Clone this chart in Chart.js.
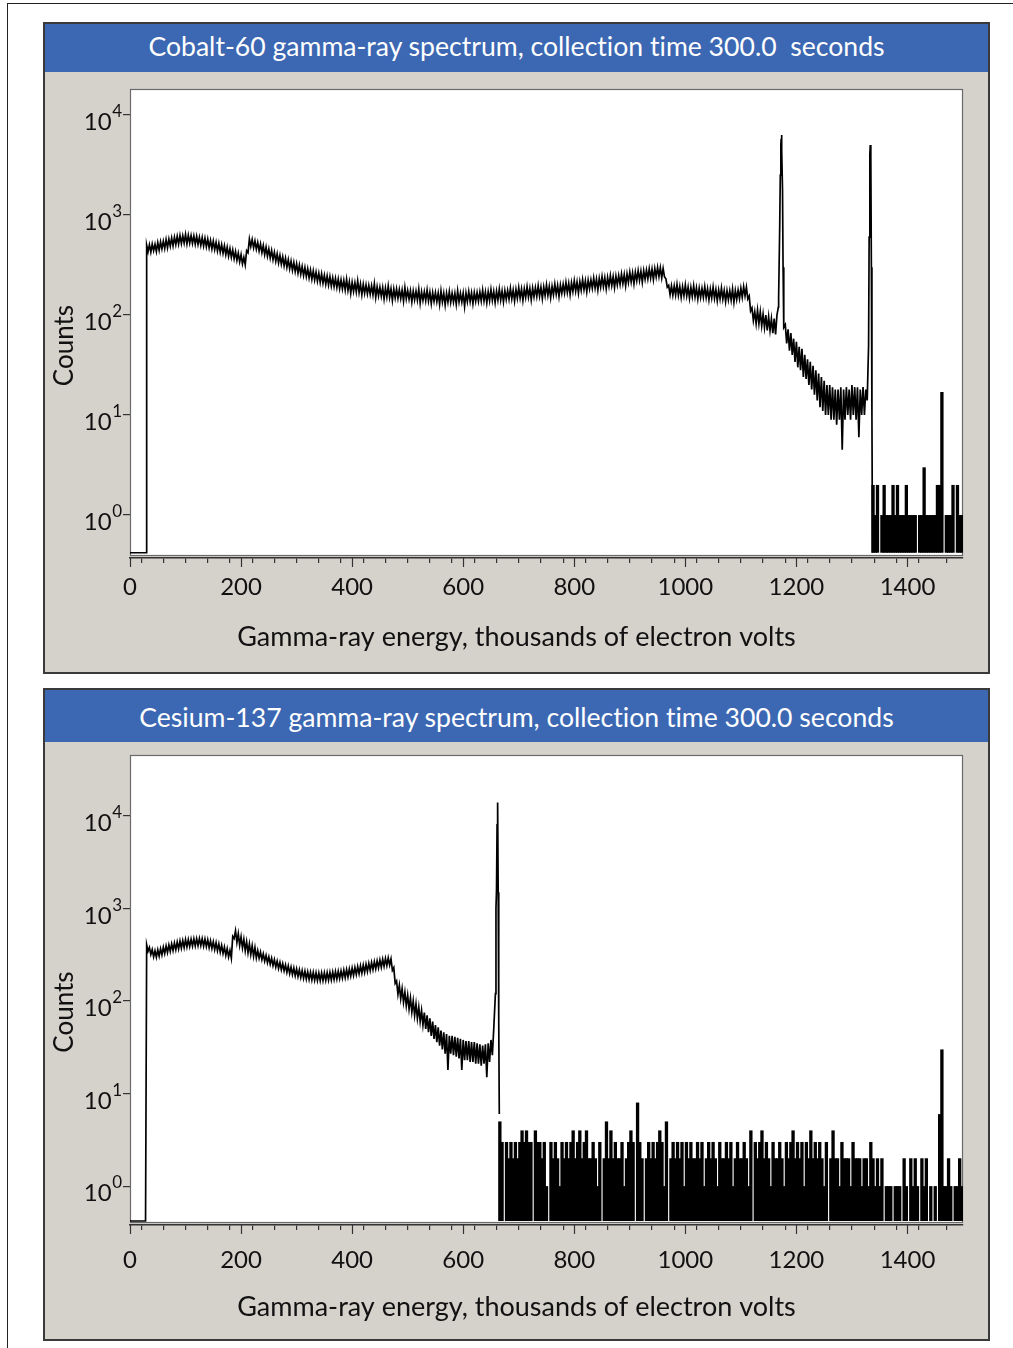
<!DOCTYPE html>
<html>
<head>
<meta charset="utf-8">
<script src="https://cdn.jsdelivr.net/npm/chart.js@4.4.1/dist/chart.umd.min.js"></script>
<style>
  html, body { margin: 0; padding: 0; background: #fff; }
  body { width: 1013px; height: 1348px; position: relative; overflow: hidden; font-family: Lato, sans-serif; }
  .frame { position: absolute; left: 7px; top: 3px; width: 1200px; height: 1400px; border-left: 1.5px solid #222; border-top: 1.5px solid #222; }
  .panel { position: absolute; left: 43px; width: 947px; box-sizing: border-box; border: 2px solid #3a3a3a; background: #d5d1cb; }
  .bar { background: #3c67b2; color: #fff; font-size: 26.6px; text-align: center; white-space: pre; font-variant-ligatures: none; }
  .plot { position: relative; width: 943px; }
  canvas { display: block; }
</style>
</head>
<body>
<div class="frame"></div>

<div class="panel" style="top:22px;height:652px">
  <div class="bar" style="height:48px;line-height:44px">Cobalt-60 gamma-ray spectrum, collection time 300.0  seconds</div>
  <div class="plot" style="height:600px"><canvas id="coChart"></canvas></div>
</div>

<div class="panel" style="top:688px;height:653px">
  <div class="bar" style="height:52px;line-height:54px">Cesium-137 gamma-ray spectrum, collection time 300.0 seconds</div>
  <div class="plot" style="height:597px"><canvas id="csChart"></canvas></div>
</div>

<script>
// Spectra. The noisy continuum is given as alternating
// channels: a "high" channel every 5 keV and a "low" channel 2.5 keV after it.
// A few extra points shape the narrow photopeaks; the sparse high-energy
// tail is given in 4 keV bins.
const STEP = 5;
const HALF = 2.5;
const TAIL_STEP = 4;
const FLOOR = 0.42;   // empty channels are drawn on the bottom line
const X_TITLE = 'Gamma-ray energy, thousands of electron volts';
const yTickExponents = [0, 1, 2, 3, 4];
const xMajorTicks = [0, 200, 400, 600, 800, 1000, 1200, 1400];

// Cobalt-60: high channels 30 ... 1335 keV
const coStartE = 30;
const coHigh = [
  500, 505, 512, 510, 530, 540, 548, 568, 575, 590,
  600, 612, 625, 620, 640, 628, 622, 618, 612, 600,
  595, 585, 575, 558, 548, 532, 520, 505, 492, 478,
  462, 448, 432, 416, 402, 378, 440, 575, 570, 550,
  532, 515, 495, 478, 458, 442, 425, 410, 395, 382,
  370, 358, 346, 335, 325, 316, 306, 298, 290, 282,
  276, 268, 262, 258, 250, 246, 242, 236, 232, 229,
  225, 222, 228, 215, 212, 210, 220, 205, 203, 200,
  198, 196, 205, 192, 190, 188, 186, 195, 183, 182,
  182, 180, 178, 188, 176, 175, 174, 173, 182, 171,
  171, 178, 169, 168, 168, 166, 175, 165, 165, 172,
  165, 165, 175, 165, 166, 166, 172, 167, 168, 168,
  170, 178, 170, 171, 180, 172, 173, 182, 174, 175,
  176, 185, 178, 180, 188, 182, 183, 192, 185, 186,
  188, 196, 190, 191, 200, 193, 194, 204, 198, 200,
  203, 212, 207, 210, 220, 214, 216, 226, 220, 223,
  225, 234, 229, 232, 242, 236, 238, 248, 242, 245,
  248, 258, 254, 258, 268, 264, 268, 278, 274, 278,
  282, 290, 288, 292, 300, 298, 292, 230, 198, 196,
  195, 202, 193, 192, 200, 190, 189, 196, 187, 186,
  185, 192, 183, 182, 190, 180, 178, 186, 176, 175,
  175, 182, 176, 178, 185, 192, 190, 155, 118, 108,
  112, 108, 102, 100, 96, 92, 92, 100, 800, 1800,
  80, 72, 66, 58, 54, 48, 46, 40, 36, 34,
  31, 28, 26, 24, 22, 20, 20, 19, 18, 18,
  19, 18, 19, 18, 20, 19, 19, 18, 19, 18,
  50, 300
];
// Cobalt-60: low channels 32.5 ... 1332.5 keV
const coLow = [
  430, 425, 440, 432, 445, 458, 462, 470, 488, 492,
  505, 512, 518, 525, 515, 522, 520, 510, 508, 498,
  490, 482, 470, 458, 450, 436, 425, 415, 402, 388,
  378, 365, 352, 340, 325, 318, 420, 485, 470, 455,
  438, 420, 402, 388, 372, 358, 346, 332, 322, 310,
  300, 290, 280, 272, 262, 256, 248, 242, 235, 228,
  224, 218, 212, 208, 203, 199, 195, 192, 188, 184,
  182, 178, 176, 165, 172, 170, 168, 160, 165, 163,
  161, 159, 150, 156, 154, 145, 151, 150, 140, 148,
  147, 146, 138, 145, 144, 135, 142, 141, 132, 140,
  139, 138, 130, 137, 136, 128, 135, 126, 135, 134,
  135, 128, 135, 135, 122, 136, 136, 130, 137, 137,
  138, 138, 132, 139, 140, 133, 141, 141, 135, 143,
  144, 145, 138, 147, 148, 140, 150, 151, 142, 152,
  153, 154, 146, 156, 157, 149, 159, 161, 153, 165,
  166, 168, 160, 172, 173, 166, 177, 179, 171, 183,
  185, 186, 178, 190, 192, 183, 195, 197, 188, 200,
  203, 206, 196, 212, 214, 205, 220, 222, 213, 228,
  230, 234, 226, 240, 242, 235, 240, 190, 160, 158,
  158, 157, 150, 156, 155, 147, 153, 152, 145, 150,
  150, 149, 142, 148, 147, 139, 145, 144, 136, 142,
  141, 134, 143, 146, 150, 155, 145, 110, 88, 82,
  82, 78, 75, 70, 70, 66, 64, 120, 5800, 75,
  52, 44, 40, 34, 30, 28, 24, 23, 20, 18,
  16, 14, 12, 11, 10, 10, 9, 9, 8, 9,
  4.5, 9, 10, 9, 10, 9, 6, 10, 10, 14,
  4000
];
const coExtraE = [0, 29, 1168, 1171, 1172, 1173, 1174, 1176, 1177, 1331, 1332, 1333, 1334, 1336, 1337];
const coExtraC = [0, 0, 150, 2500, 5000, 6300, 4500, 300, 80, 600, 3000, 5000, 3800, 10, 0];
const coTailStartE = 1338;
const coTail = [
  2, 1, 2, 0, 1, 2, 1, 1, 1, 2,
  1, 2, 1, 1, 1, 2, 1, 1, 1, 1,
  0, 1, 1, 3, 1, 1, 1, 1, 1, 2,
  2, 17, 0, 1, 1, 1, 2, 0, 2, 1,
  1
];

// Cesium-137: high channels 30 ... 655 keV
const csStartE = 30;
const csHigh = [
  405, 380, 360, 350, 358, 368, 382, 395, 405, 415,
  425, 435, 445, 450, 462, 462, 466, 470, 472, 475,
  472, 468, 460, 448, 438, 428, 414, 400, 384, 368,
  352, 500, 575, 535, 495, 465, 438, 415, 396, 378,
  350, 338, 324, 312, 300, 290, 280, 270, 262, 254,
  246, 240, 233, 228, 222, 218, 214, 210, 207, 205,
  204, 202, 201, 202, 202, 203, 204, 206, 208, 210,
  212, 216, 219, 222, 227, 231, 236, 240, 245, 250,
  255, 261, 266, 272, 278, 283, 289, 293, 285, 230,
  165, 148, 136, 125, 116, 108, 100, 93, 86, 79,
  75, 70, 65, 60, 55, 52, 48, 46, 44, 42,
  42, 41, 40, 39, 38, 37, 37, 36, 36, 35,
  34, 33, 34, 35, 38, 50
];
// Cesium-137: low channels 32.5 ... 652.5 keV
const csLow = [
  345, 318, 300, 298, 305, 315, 326, 335, 344, 352,
  358, 366, 372, 378, 384, 388, 392, 394, 396, 398,
  392, 388, 378, 370, 360, 350, 338, 326, 312, 300,
  290, 475, 430, 400, 375, 350, 332, 318, 304, 292,
  290, 280, 270, 260, 250, 241, 233, 225, 218, 212,
  204, 198, 193, 188, 184, 180, 176, 173, 171, 169,
  168, 167, 166, 166, 167, 168, 169, 171, 173, 175,
  177, 179, 182, 186, 189, 193, 197, 200, 204, 209,
  214, 219, 223, 228, 232, 237, 242, 245, 215, 155,
  118, 106, 97, 89, 82, 76, 70, 65, 60, 55,
  50, 46, 42, 39, 36, 33, 30, 27, 18, 27,
  26, 25, 24, 18, 23, 23, 22, 22, 21, 21,
  20, 21, 15, 22, 26
];
const csExtraE = [0, 28, 658, 659, 660, 661, 662, 663, 664, 665];
const csExtraC = [0, 0, 120, 1000, 1600, 8000, 14000, 1500, 60, 6];
const csTailStartE = 666;
const csTail = [
  5, 3, 0, 3, 2, 3, 2, 3, 2, 3,
  4, 3, 4, 3, 3, 0, 4, 3, 3, 2,
  3, 1, 0, 3, 2, 3, 2, 1, 3, 2,
  3, 2, 3, 4, 2, 3, 4, 2, 3, 4,
  2, 2, 3, 2, 1, 3, 0, 2, 5, 2,
  4, 2, 3, 2, 2, 3, 1, 2, 3, 4,
  3, 0, 8, 3, 2, 0, 2, 3, 2, 3,
  2, 3, 4, 3, 1, 5, 0, 2, 3, 2,
  3, 2, 3, 1, 3, 2, 3, 2, 2, 3,
  2, 3, 1, 2, 3, 2, 3, 2, 1, 3,
  2, 2, 3, 2, 3, 1, 2, 3, 2, 2,
  3, 2, 1, 4, 0, 3, 2, 3, 4, 2,
  3, 2, 1, 3, 2, 2, 3, 2, 1, 3,
  2, 3, 4, 2, 3, 2, 3, 1, 3, 2,
  4, 2, 3, 2, 3, 2, 1, 3, 0, 2,
  4, 2, 2, 1, 3, 2, 2, 2, 1, 3,
  2, 2, 2, 1, 2, 2, 1, 3, 2, 1,
  2, 1, 2, 0, 1, 1, 1, 0, 1, 1,
  1, 0, 2, 1, 0, 2, 1, 2, 1, 0,
  2, 1, 2, 0, 1, 0, 1, 0, 6, 30,
  1, 1, 2, 1, 0, 1, 1, 2, 1
];

// high + low channels + peak points, sorted by energy; zero counts go to the floor
function buildLine(startE, high, low, extraE, extraC) {
  const pts = high.map((c, i) => ({ x: startE + i * STEP, y: c }));
  low.forEach((c, i) => pts.push({ x: startE + HALF + i * STEP, y: c }));
  extraE.forEach((e, i) => pts.push({ x: e, y: extraC[i] }));
  pts.sort((a, b) => a.x - b.x);
  return pts.map(p => ({ x: p.x, y: p.y > 0 ? p.y : FLOOR }));
}

function buildTail(startE, counts) {
  return counts.map((c, i) => ({ x: startE + i * TAIL_STEP, y: c > 0 ? c : null }));
}

// white plot box, long ticks every 200, 10^n labels and both axis titles
const spectrumFrame = {
  id: 'spectrumFrame',
  beforeDraw(chart) {
    const { ctx, chartArea: a } = chart;
    ctx.save();
    ctx.fillStyle = '#fff';
    ctx.fillRect(a.left, a.top, a.right - a.left, a.bottom - 3 - a.top);
    ctx.restore();
  },
  beforeDatasetsDraw(chart) {
    const { ctx, chartArea: a } = chart;
    ctx.save();
    ctx.strokeStyle = '#6a6a6a';
    ctx.lineWidth = 1.2;
    ctx.strokeRect(a.left + 0.5, a.top + 0.5, a.right - a.left - 1, a.bottom - 3 - a.top);
    ctx.restore();
  },
  afterDraw(chart, args, opts) {
    const { ctx, chartArea: a, scales: { x, y } } = chart;
    ctx.save();
    ctx.strokeStyle = '#333';
    ctx.lineWidth = 1.2;
    xMajorTicks.forEach(v => {
      const px = Math.round(x.getPixelForValue(v)) + 0.5;
      ctx.beginPath();
      ctx.moveTo(px, a.bottom);
      ctx.lineTo(px, a.bottom + 9);
      ctx.stroke();
    });

    ctx.fillStyle = '#111';
    ctx.textAlign = 'right';
    ctx.textBaseline = 'alphabetic';
    yTickExponents.forEach(e => {
      const py = y.getPixelForValue(Math.pow(10, e));
      const supX = a.left - 8;
      ctx.font = '17px Lato';
      ctx.fillText(String(e), supX, py + 2);
      const w = ctx.measureText(String(e)).width;
      ctx.font = '24px Lato';
      ctx.fillText('10', supX - w - 0.5, py + 15);
    });

    // x title, centred on the whole panel
    ctx.textAlign = 'center';
    ctx.textBaseline = 'middle';
    ctx.font = '27px Lato';
    ctx.fillText(X_TITLE, chart.width / 2, a.bottom + opts.titleGap);

    ctx.translate(a.left - 57, (a.top + a.bottom) / 2 + 22);
    ctx.rotate(-Math.PI / 2);
    ctx.textBaseline = 'alphabetic';
    ctx.font = '26px Lato';
    ctx.fillText('Counts', 0, 0);
    ctx.restore();
  }
};

function makeSpectrum(id, line, tail, yMin, yMax, topPad, labelPad, titleGap) {
  return new Chart(document.getElementById(id), {
    type: 'line',
    data: {
      datasets: [
        {
          type: 'line', data: line, borderColor: '#000', borderWidth: 1.7,
          pointRadius: 0, tension: 0, fill: false, order: 1
        },
        {
          type: 'bar', data: tail, backgroundColor: '#000', borderWidth: 0,
          barPercentage: 1.5, categoryPercentage: 1, base: FLOOR, order: 2
        }
      ]
    },
    options: {
      responsive: true,
      maintainAspectRatio: false,
      animation: false,
      events: [],
      layout: { padding: { top: topPad, right: 25, bottom: 0, left: 0 } },
      plugins: {
        legend: { display: false },
        tooltip: { enabled: false },
        spectrumFrame: { titleGap: titleGap }
      },
      scales: {
        x: {
          type: 'linear', min: 0, max: 1500, offset: false,
          afterFit: s => { s.height = 114; },
          border: { display: true, color: '#333', width: 1.5 },
          grid: { drawOnChartArea: false, drawTicks: true, tickLength: 5, color: '#333', lineWidth: 1.2 },
          ticks: {
            stepSize: 40, maxTicksLimit: 100, autoSkip: false, maxRotation: 0,
            padding: labelPad, color: '#111', font: { family: 'Lato', size: 24 },
            callback: v => (v % 200 === 0 ? String(v) : '')
          },
          title: { display: false }
        },
        y: {
          type: 'logarithmic', min: yMin, max: yMax,
          afterFit: s => { s.width = 85; },
          afterBuildTicks: s => { s.ticks = yTickExponents.map(e => ({ value: Math.pow(10, e) })); },
          border: { display: false },
          grid: { drawOnChartArea: false, drawTicks: true, tickLength: 7, color: '#333', lineWidth: 1.2 },
          ticks: { display: false }
        }
      }
    },
    plugins: [spectrumFrame]
  });
}

makeSpectrum('coChart',
  buildLine(coStartE, coHigh, coLow, coExtraE, coExtraC),
  buildTail(coTailStartE, coTail),
  0.372, 18200, 17, 10, 79);

makeSpectrum('csChart',
  buildLine(csStartE, csHigh, csLow, csExtraE, csExtraC),
  buildTail(csTailStartE, csTail),
  0.38, 45600, 13, 16, 82);
</script>
</body>
</html>
